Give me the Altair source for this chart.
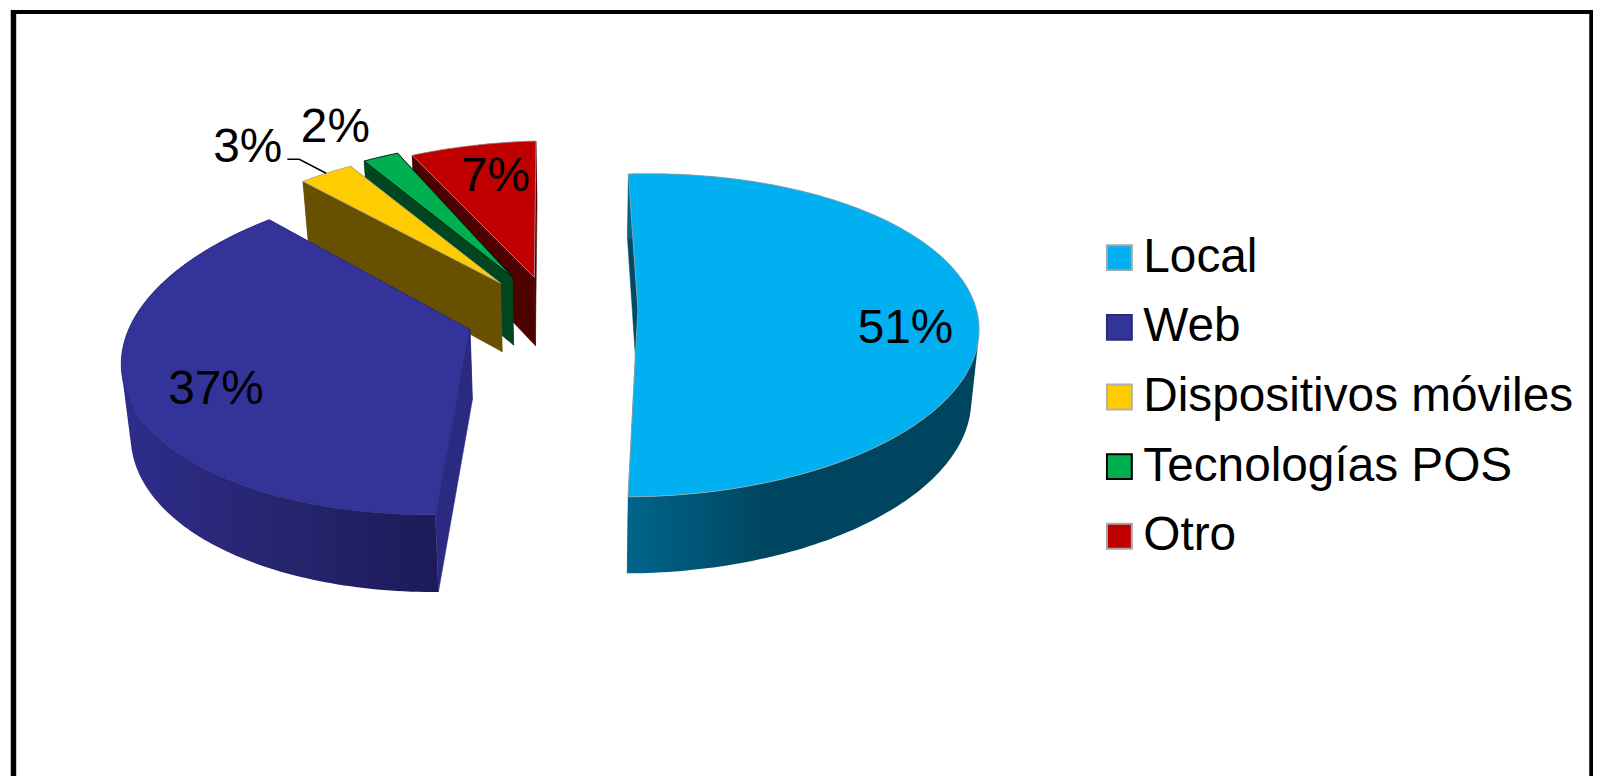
import math
import altair as alt

categories = ["Local", "Web", "Dispositivos móviles", "Tecnologías POS", "Otro"]
values = [51, 37, 3, 2, 7]
fills = ["#00B0F0", "#333399", "#FFCC00", "#00B050", "#C00000"]
edges = ["#A6A6A6", "#2A2A7A", "#B0B0B0", "#000000", "#A6A6A6"]
side_fills = ["#004A66", "#2A2A80", "#675100", "#00461F", "#4D0000"]
explode = [73, 100, 93, 100, 72]
apex_nudge = [(5, 0), (5, 0), (-4, 4), (-1, 4), (-10, -2)]
arc_nudge = [(6, 1.5), (9, -9), (0, -6), (5, -6), (-7.5, -9)]
arc_width = [1, 0.99, 1, 1, 1]
arc_skew = [-0.015, 0, 0, 0, 0]
label_lon = [910, 217, 249, 337, 498]
label_lat = [321, 382, 139, 119, 168]
draw_order = [4, 3, 2, 1, 0]

FONT = "Liberation Sans"
MARGIN = 8
CX, CY, RX, RY = 563, 310, 340, 159
Q, XV, START = 0.00096, 696, -4.0


def flat_to_page(x, y):
    d = 1 - Q * (y - CY)
    return XV + (x - XV) / d, CY + (y - CY) / d


def lower(p):
    x, y = p
    return x + (590 - x) * 0.02, y + 70 + 0.037 * (y - 310)


def plot_xy(p):
    return [round(p[0] - MARGIN, 2), round(p[1] - MARGIN, 2)]


def ring(points):
    pts = [plot_xy(p) for p in points]
    return pts + [pts[0]]


def feature(points, **props):
    return {"type": "Feature", "properties": props,
            "geometry": {"type": "Polygon", "coordinates": [ring(points)]}}


def signed_area(pts):
    return sum(pts[k][0] * pts[(k + 1) % len(pts)][1] - pts[(k + 1) % len(pts)][0] * pts[k][1]
               for k in range(len(pts)))


def band(arc):
    quads = []
    for a, b in zip(arc[:-1], arc[1:]):
        quad = [a, b, lower(b), lower(a)]
        if signed_area(quad) < 0:
            quad = quad[::-1]
        quads.append([ring(quad)])
    return {"type": "Feature", "properties": {},
            "geometry": {"type": "MultiPolygon", "coordinates": quads}}


slices = []
angle = START
for v, e, an, arn, w, sk in zip(values, explode, apex_nudge, arc_nudge, arc_width, arc_skew):
    sweep = v * 3.6
    mid = math.radians(angle + sweep / 2)
    ax = CX + e * math.sin(mid)
    ay = CY - e * math.cos(mid) * RY / RX
    n = max(3, int(sweep))
    px0, py0 = flat_to_page(ax, ay)
    arc = []
    for k in range(n + 1):
        t = math.radians(angle + sweep * k / n)
        px, py = flat_to_page(ax + RX * math.sin(t), ay - RY * math.cos(t))
        arc.append((px0 + (px - px0) * w + arn[0] + sk * (py - CY), py + arn[1]))
    slices.append({"apex": (px0 + an[0], py0 + an[1]), "arc": arc})
    angle += sweep

PROJ = dict(type="identity", scale=1, translate=[0, 0])
color_scale = alt.Scale(domain=categories, range=fills)
stroke_scale = alt.Scale(domain=categories, range=edges)
legend = alt.Legend(
    title=None, orient="none", legendX=1093, legendY=225,
    symbolType="square", symbolSize=625, symbolStrokeWidth=2, symbolOpacity=1,
    labelFont=FONT, labelFontSize=48, labelColor="#000000", labelOffset=0,
    labelLimit=500, rowPadding=22, padding=0,
)

wall_gradients = {
    0: alt.Gradient(gradient="linear", x1=0, x2=1, y1=0, y2=0, stops=[
        alt.GradientStop(offset=0, color="#00658C"),
        alt.GradientStop(offset=0.4, color="#00455F"),
        alt.GradientStop(offset=1, color="#00455F")]),
    1: alt.Gradient(gradient="linear", x1=0, x2=1, y1=0, y2=0, stops=[
        alt.GradientStop(offset=0, color="#2E2D8C"),
        alt.GradientStop(offset=0.5, color="#26256F"),
        alt.GradientStop(offset=1, color="#1C1A58")]),
}

layers = []
for i in draw_order:
    s = slices[i]
    apex, arc = s["apex"], s["arc"]
    cuts = []
    for outer in (arc[-1], arc[0]):
        cuts.append(feature([apex, outer, lower(outer), lower(apex)], side=side_fills[i]))
    if i == 1:
        cuts = cuts[::-1]
    layers.append(
        alt.Chart(alt.Data(values=cuts)).mark_geoshape(
            fill=side_fills[i], stroke=side_fills[i], strokeWidth=0.5
        ).project(**PROJ)
    )
    layers.append(
        alt.Chart(alt.Data(values=[band(arc)])).mark_geoshape(
            fill=wall_gradients.get(i, side_fills[i]), strokeWidth=0
        ).project(**PROJ)
    )
    top = [feature([apex] + arc, cat=categories[i])]
    layers.append(
        alt.Chart(alt.Data(values=top)).mark_geoshape(strokeWidth=0.75).encode(
            fill=alt.Fill("properties.cat:N", scale=color_scale, legend=legend),
            stroke=alt.Stroke("properties.cat:N", scale=stroke_scale, legend=legend),
        ).project(**PROJ)
    )

leader_end = slices[2]["arc"][len(slices[2]["arc"]) // 2]
leader = {"type": "Feature", "properties": {}, "geometry": {"type": "LineString", "coordinates": [
    plot_xy((leader_end[0] - 39, leader_end[1] - 14)),
    plot_xy((leader_end[0] - 27, leader_end[1] - 14)),
    plot_xy(leader_end)]}}
layers.append(
    alt.Chart(alt.Data(values=[leader])).mark_geoshape(
        filled=False, stroke="#000000", strokeWidth=1.5
    ).project(**PROJ)
)

frame = {"type": "Feature", "properties": {}, "geometry": {"type": "LineString", "coordinates": [
    [5.5, 790], [5.5, 1.25], [1592, 1.25], [1592, 790]]}}
layers.append(
    alt.Chart(alt.Data(values=[frame])).mark_geoshape(
        filled=False, stroke="#000000", strokeWidth=5.5
    ).project(**PROJ)
)

labels = [{"text": f"{v}%", "lon": x - MARGIN, "lat": y}
          for v, x, y in zip(values, label_lon, label_lat)]
layers.append(
    alt.Chart(alt.Data(values=labels)).mark_text(
        font=FONT, fontSize=48, color="#000000", align="center", baseline="middle"
    ).encode(longitude="lon:Q", latitude="lat:Q", text="text:N").project(**PROJ)
)

chart = alt.layer(*layers).properties(
    width=1593, height=770, padding=0, background="#FFFFFF",
    autosize=alt.AutoSizeParams(type="none"),
).resolve_scale(fill="shared", stroke="shared").configure_view(stroke=None)

chart.save("out.html", embed_options={"renderer": "svg", "actions": False})
